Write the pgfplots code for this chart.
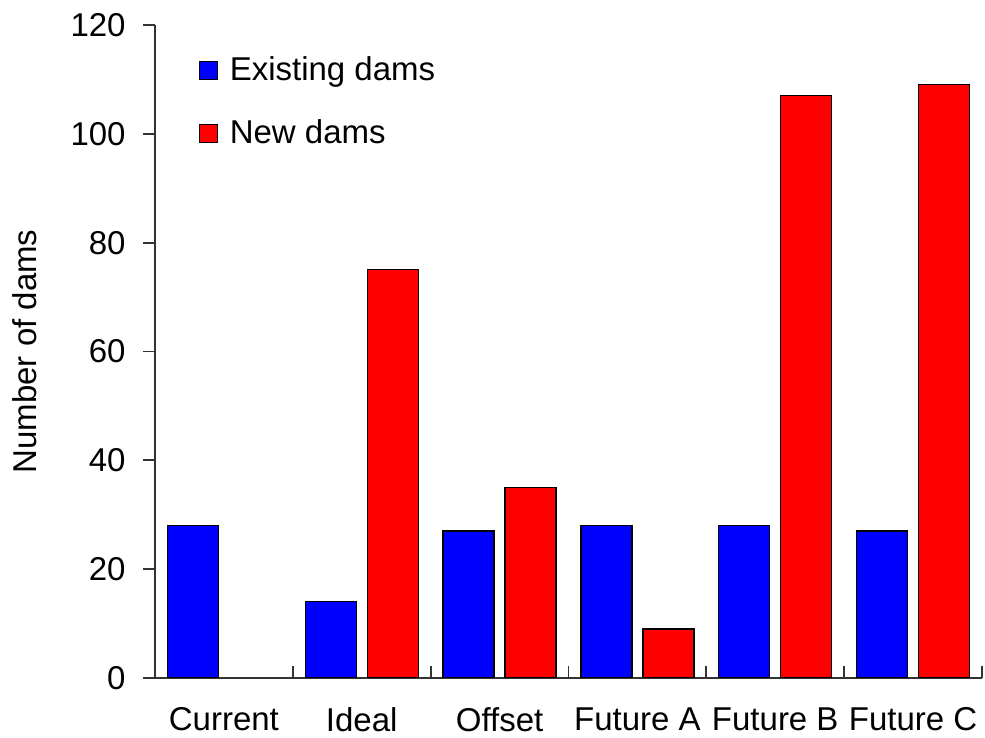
\documentclass[border=0pt]{standalone}
\usepackage{fontspec}
\setmainfont{Liberation Sans}
\usepackage{pgfplots}
\pgfplotsset{compat=1.18}
\begin{document}
\fontsize{16.5}{20}\selectfont
\begin{tikzpicture}
\useasboundingbox (-77.5pt,-30pt) rectangle (415pt,339pt);
\begin{axis}[
  at={(0,0)}, anchor=south west,
  scale only axis,
  width=413.5pt, height=326.5pt,
  xmin=-0.5, xmax=5.5, ymin=0, ymax=120,
  axis x line*=bottom, axis y line*=left,
  axis line style={line width=0.9pt, black!80},
  ytick={0,20,...,120},
  xtick={0,...,5},
  xticklabels={Current,Ideal,Offset,Future A,Future B,Future C},
  major x tick style={draw=none},
  minor xtick={-0.5,0.5,...,5.5},
  minor tick length=6pt,
  major tick length=6pt,
  tick align=outside,
  minor x tick style={yshift=6pt, line width=0.9pt, black!80},
  major y tick style={line width=0.9pt, black!80},
  x tick label style={yshift=-3pt},
  y tick label style={xshift=-3pt},
  /pgf/number format/assume math mode=true,
  ylabel={Number of dams},
  ylabel style={at={(axis description cs:-0.157,0.5)}, anchor=center, rotate=0},
  ybar, bar width=25.5pt,
  legend style={draw=none, fill=none, at={(axis description cs:0.045,0.965)}, anchor=north west,
    row sep=13pt, column sep=4pt, font=\fontsize{16.5}{20}\selectfont},
  legend cell align=left,
  legend image code/.code={\draw[#1, line width=0.6pt] (0pt,-4.5pt) rectangle (9pt,4.5pt);},
]
\addplot[fill={rgb,255:red,0;green,0;blue,255}, draw=black, line width=0.6pt, bar shift=-15.5pt]
  coordinates {(0,28) (1,14) (2,27) (3,28) (4,28) (5,27)};
\addlegendentry{Existing dams}
\addplot[fill={rgb,255:red,255;green,0;blue,0}, draw=black, line width=0.6pt, bar shift=15.5pt]
  coordinates {(1,75) (2,35) (3,9) (4,107) (5,109)};
\addlegendentry{New dams}
\end{axis}
\end{tikzpicture}
\end{document}
